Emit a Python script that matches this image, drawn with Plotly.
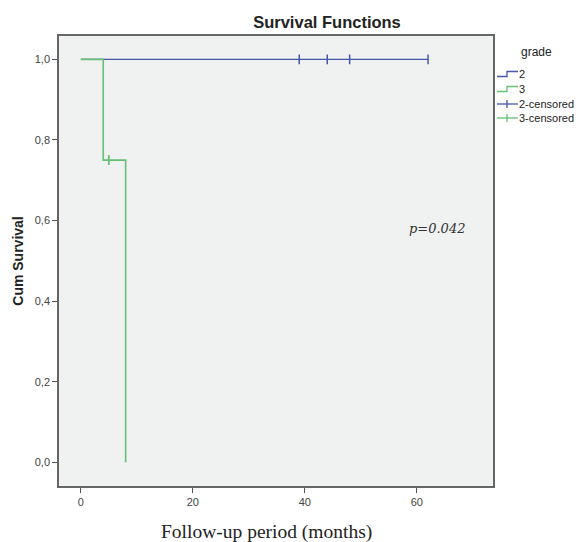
import plotly.graph_objects as go

# Data
g2_time = [0, 62]
g2_surv = [1.0, 1.0]
g3_time = [0, 4, 8]
g3_surv = [1.0, 0.75, 0.0]
g2_cens_time = [39, 44, 48, 62]
g2_cens_surv = [1.0, 1.0, 1.0, 1.0]
g3_cens_time = [5]
g3_cens_surv = [0.75]
x_ticks = [0, 20, 40, 60]
y_ticks = [0.0, 0.2, 0.4, 0.6, 0.8, 1.0]
legend_labels = ["2", "3", "2-censored", "3-censored"]
p_text = "p=0.042"
p_pos = (63.6, 0.58)

BLUE = "#4358a8"
GREEN = "#66bf74"

W, H = 582, 542
ML, MR, MT, MB = 59, 89, 36, 56
PW, PH = W - ML - MR, H - MT - MB


def px(x):
    return (x - ML) / PW


def py(y):
    return (H - MB - y) / PH


fig = go.Figure()
fig.add_trace(go.Scatter(x=g2_time, y=g2_surv, mode="lines", line_shape="hv",
                         line=dict(color=BLUE, width=1.3), name="2"))
fig.add_trace(go.Scatter(x=g3_time, y=g3_surv, mode="lines", line_shape="hv",
                         line=dict(color=GREEN, width=1.6), name="3"))
fig.add_trace(go.Scatter(x=g2_cens_time, y=g2_cens_surv, mode="markers",
                         marker=dict(symbol="line-ns", size=7,
                                     line=dict(color=BLUE, width=1.5)),
                         name="2-censored"))
fig.add_trace(go.Scatter(x=g3_cens_time, y=g3_cens_surv, mode="markers",
                         marker=dict(symbol="line-ns", size=7,
                                     line=dict(color=GREEN, width=1.8)),
                         name="3-censored"))

fig.add_annotation(x=p_pos[0], y=p_pos[1], xref="x", yref="y", text=p_text,
                   showarrow=False,
                   font=dict(family="DejaVu Serif", size=13, color="#333",
                             style="italic"))

fig.add_annotation(x=px(266), y=py(532), xref="paper", yref="paper",
                   text="Follow-up period (months)", showarrow=False,
                   xanchor="center", yanchor="middle",
                   font=dict(family="Liberation Serif", size=19.5, color="#222"))

# custom legend (SPSS style)
fig.add_annotation(x=px(519), y=py(52), xref="paper", yref="paper", text="grade",
                   showarrow=False, xanchor="left", yanchor="middle",
                   font=dict(size=12, color="#222"))
leg_y = [74, 89, 104, 118]
leg_col = [BLUE, GREEN, BLUE, GREEN]
for i, (lab, yy, col) in enumerate(zip(legend_labels, leg_y, leg_col)):
    fig.add_annotation(x=px(517), y=py(yy), xref="paper", yref="paper", text=lab,
                       showarrow=False, xanchor="left", yanchor="middle",
                       font=dict(size=11, color="#222"))
    if i < 2:
        path = (f"M {px(497)} {py(yy + 2.5)} L {px(507)} {py(yy + 2.5)} "
                f"L {px(507)} {py(yy - 2.5)} L {px(518)} {py(yy - 2.5)}")
        fig.add_shape(type="path", path=path, xref="paper", yref="paper",
                      line=dict(color=col, width=1.3))
    else:
        fig.add_shape(type="line", x0=px(497), x1=px(518), y0=py(yy), y1=py(yy),
                      xref="paper", yref="paper", line=dict(color=col, width=1.3))
        fig.add_shape(type="line", x0=px(507), x1=px(507), y0=py(yy - 4),
                      y1=py(yy + 4), xref="paper", yref="paper",
                      line=dict(color=col, width=1.3))

fig.update_layout(
    width=W, height=H,
    margin=dict(l=ML, r=MR, t=MT, b=MB, autoexpand=False),
    paper_bgcolor="white", plot_bgcolor="#f0f1f1",
    separators=", ",
    showlegend=False,
    title=dict(text="<b>Survival Functions</b>", x=327 / W, xanchor="center",
               y=1 - 22 / H, yanchor="middle",
               font=dict(family="Liberation Sans", size=16.5, color="#222")),
    font=dict(family="Liberation Sans", size=11, color="#333"),
)
fig.update_xaxes(range=[-3.9, 73.6], tickvals=x_ticks, ticks="outside", ticklen=5,
                 tickcolor="#555", showgrid=False, zeroline=False,
                 showline=True, linecolor="#666", linewidth=1.5, mirror=True,
                 tickfont=dict(size=11, color="#444"))
fig.update_yaxes(range=[-0.059, 1.058], tickvals=y_ticks, tickformat=".1f",
                 ticks="outside", ticklen=5, tickcolor="#555", showgrid=False,
                 zeroline=False, showline=True, linecolor="#666", linewidth=1.5,
                 mirror=True, tickfont=dict(size=11, color="#444"),
                 title=dict(text="<b>Cum Survival</b>", standoff=8,
                            font=dict(size=14, color="#222")))

fig.write_html("out.html")
